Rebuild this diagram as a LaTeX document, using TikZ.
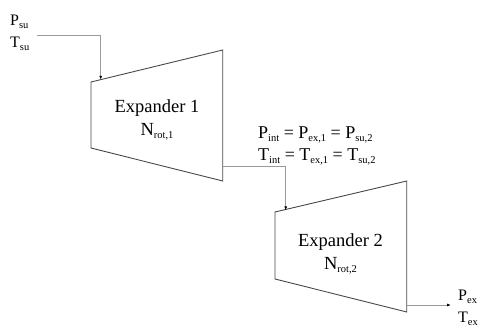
\documentclass[tikz,border=0pt]{standalone}
\usepackage{fontspec}
\setmainfont{Liberation Serif}
\usetikzlibrary{arrows.meta}
\newcommand{\sbs}[1]{\raisebox{-3.5pt}{\fontsize{10.5}{10.5}\selectfont #1}}
\definecolor{boxline}{HTML}{4A4A4A}
\definecolor{pipe}{HTML}{9A9A9A}
\tikzset{
  machine/.style={draw=boxline, line width=0.9pt, line join=miter},
  pipeline/.style={draw=pipe, line width=0.8pt, -{Latex[length=4pt,width=3pt,color=black]}},
  lbl/.style={inner sep=0pt, anchor=base west, font=\fontsize{16}{16}\selectfont},
  biglbl/.style={inner sep=0pt, anchor=base west, font=\fontsize{18}{18}\selectfont},
  title/.style={inner sep=0pt, anchor=base, font=\fontsize{18.5}{18.5}\selectfont}
}
\begin{document}
\begin{tikzpicture}[x=1pt,y=-1pt]
\useasboundingbox (0,0) rectangle (479,327);
% Expander 1
\coordinate (e1tl) at (91,82);
\coordinate (e1bl) at (91,148);
\coordinate (e1tr) at (222.7,50);
\coordinate (e1br) at (222.7,181);
\draw[machine] (e1tl) -- (e1tr) -- (e1br) -- (e1bl) -- cycle;
\node[title] (e1name) at (157,112) {Expander 1};
\node[title] (e1rot) at (157,135) {N\sbs{rot,1}};
% Expander 2
\coordinate (e2tl) at (275,212);
\coordinate (e2bl) at (275,279);
\coordinate (e2tr) at (406.7,181);
\coordinate (e2br) at (406.7,312);
\draw[machine] (e2tl) -- (e2tr) -- (e2br) -- (e2bl) -- cycle;
\node[title] (e2name) at (340.5,246) {Expander 2};
\node[title] (e2rot) at (340.5,269) {N\sbs{rot,2}};
% labels
\node[lbl] (psu) at (10,25) {P\sbs{su}};
\node[lbl] (tsu) at (10,47) {T\sbs{su}};
\node[biglbl] (pint) at (258,138) {P\sbs{int} = P\sbs{ex,1} = P\sbs{su,2}};
\node[biglbl] (tint) at (258,160) {T\sbs{int} = T\sbs{ex,1} = T\sbs{su,2}};
\node[lbl] (pex) at (458,300) {P\sbs{ex}};
\node[lbl] (tex) at (458,322) {T\sbs{ex}};
% connectors
\coordinate (inA) at (37,35.7);
\coordinate (inB) at (100.7,35.7);
\coordinate (inC) at (100.7,79.8);
\draw[pipeline] (inA) -- (inB) -- (inC);
\coordinate (midA) at (222.7,166);
\coordinate (midB) at (285.7,166);
\coordinate (midC) at (285.7,210.4);
\draw[pipeline] (midA) -- (midB) -- (midC);
\coordinate (outA) at (406.7,305);
\coordinate (outB) at (451,305);
\draw[pipeline] (outA) -- (outB);
\end{tikzpicture}
\end{document}
